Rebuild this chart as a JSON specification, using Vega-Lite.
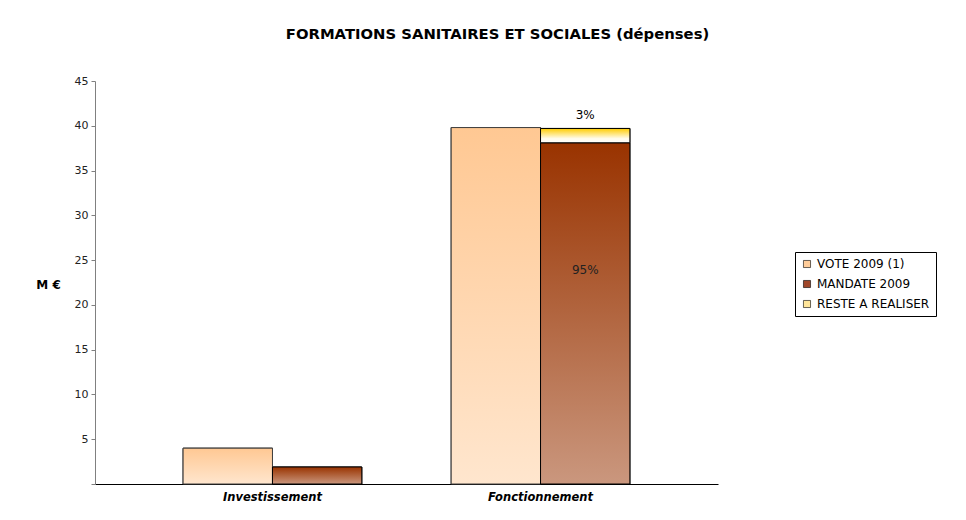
{
  "$schema": "https://vega.github.io/schema/vega-lite/v6.json",
  "width": 623,
  "height": 403,
  "autosize": {"type": "none"},
  "padding": {"left": 95, "top": 81, "right": 248, "bottom": 36},
  "background": "white",
  "config": {"view": {"stroke": null}, "font": "DejaVu Sans"},
  "title": {
    "text": "FORMATIONS SANITAIRES ET SOCIALES (dépenses)",
    "font": "DejaVu Sans",
    "fontSize": 14.8,
    "fontWeight": "bold",
    "color": "black",
    "anchor": "middle",
    "dx": 91,
    "offset": 33
  },
  "data": {
    "values": [
      {"cat": "Investissement", "serie": "VOTE 2009 (1)", "slot": "A", "value": 4.0, "label": null},
      {"cat": "Investissement", "serie": "MANDATE 2009", "slot": "B", "value": 1.9, "label": null},
      {"cat": "Fonctionnement", "serie": "VOTE 2009 (1)", "slot": "A", "value": 39.8, "label": null},
      {"cat": "Fonctionnement", "serie": "MANDATE 2009", "slot": "B", "value": 38.1, "label": "95%"},
      {"cat": "Fonctionnement", "serie": "RESTE A REALISER", "slot": "B", "value": 1.6, "label": "3%"}
    ]
  },
  "transform": [
    {"stack": "value", "groupby": ["cat", "slot"], "as": ["v0", "v1"], "sort": [{"field": "serie", "order": "ascending"}]}
  ],
  "encoding": {
    "x": {
      "field": "cat",
      "type": "nominal",
      "sort": ["Investissement", "Fonctionnement"],
      "scale": {"paddingInner": 0, "paddingOuter": 0.162},
      "axis": {
        "title": null,
        "labelAngle": 0,
        "labelFont": "DejaVu Sans",
        "labelFontSize": 11.5,
        "labelFontStyle": "italic",
        "labelFontWeight": "bold",
        "labelColor": "black",
        "domainColor": "black",
        "ticks": false,
        "labelPadding": 7
      }
    },
    "xOffset": {
      "field": "slot",
      "type": "nominal",
      "scale": {"domain": ["A", "B"], "paddingInner": 0, "paddingOuter": 0.5}
    },
    "y": {
      "field": "v1",
      "type": "quantitative",
      "scale": {"domain": [0, 45], "nice": false},
      "axis": {
        "values": [0, 5, 10, 15, 20, 25, 30, 35, 40, 45],
        "labelExpr": "datum.value == 0 ? '' : datum.label",
        "grid": false,
        "domainColor": "#808080",
        "tickColor": "#808080",
        "tickSize": 4,
        "labelFont": "DejaVu Sans",
        "labelFontSize": 11,
        "labelColor": "#222222",
        "labelPadding": 3,
        "title": "M €",
        "titleAngle": 0,
        "titleFont": "DejaVu Sans",
        "titleFontSize": 12,
        "titleFontWeight": "bold",
        "titleColor": "black",
        "titleAlign": "center",
        "titleBaseline": "middle",
        "titleX": -47,
        "titleY": 203
      }
    },
    "y2": {"field": "v0"}
  },
  "layer": [
    {
      "mark": {"type": "bar", "stroke": "black", "strokeWidth": 1},
      "encoding": {
        "color": {
          "field": "serie",
          "type": "nominal",
          "scale": {
            "domain": ["VOTE 2009 (1)", "MANDATE 2009", "RESTE A REALISER"],
            "range": ["#FFCC99", "#A0472A", "#FFE599"]
          },
          "legend": {
            "title": null,
            "orient": "none",
            "legendX": 700,
            "legendY": 171,
            "strokeColor": "black",
            "padding": 6,
            "symbolType": "square",
            "symbolSize": 50,
            "symbolStrokeColor": "black",
            "symbolStrokeWidth": 0.6,
            "labelFont": "DejaVu Sans",
            "labelFontSize": 12,
            "labelColor": "black",
            "rowPadding": 8,
            "labelOffset": 4
          }
        }
      }
    },
    {
      "transform": [{"filter": "datum.serie == 'VOTE 2009 (1)'"}],
      "mark": {
        "type": "bar",
        "stroke": "#404040",
        "strokeWidth": 1,
        "fill": {"gradient": "linear", "x1": 0, "y1": 0, "x2": 0, "y2": 1,
          "stops": [{"offset": 0, "color": "#FFC893"}, {"offset": 1, "color": "#FFE6CE"}]}
      }
    },
    {
      "transform": [{"filter": "datum.serie == 'MANDATE 2009'"}],
      "mark": {
        "type": "bar",
        "stroke": "black",
        "strokeWidth": 1,
        "fill": {"gradient": "linear", "x1": 0, "y1": 0, "x2": 0, "y2": 1,
          "stops": [{"offset": 0, "color": "#993300"}, {"offset": 1, "color": "#CA977E"}]}
      }
    },
    {
      "transform": [{"filter": "datum.serie == 'RESTE A REALISER'"}],
      "mark": {
        "type": "bar",
        "stroke": "black",
        "strokeWidth": 1,
        "fill": {"gradient": "linear", "x1": 0, "y1": 0, "x2": 0, "y2": 1,
          "stops": [{"offset": 0, "color": "#FFCC00"}, {"offset": 0.7, "color": "#FFFBEA"}, {"offset": 1, "color": "#FFFFFF"}]}
      }
    },
    {
      "transform": [{"filter": "datum.serie == 'RESTE A REALISER'"}],
      "mark": {"type": "text", "font": "DejaVu Sans", "fontSize": 12, "color": "black", "baseline": "bottom", "dy": -6},
      "encoding": {"text": {"field": "label"}, "y2": null}
    },
    {
      "transform": [{"filter": "datum.serie == 'MANDATE 2009' && datum.label != null"}],
      "mark": {"type": "text", "font": "DejaVu Sans", "fontSize": 12, "color": "#222222", "baseline": "middle", "dy": 127},
      "encoding": {"text": {"field": "label"}, "y2": null}
    }
  ]
}
